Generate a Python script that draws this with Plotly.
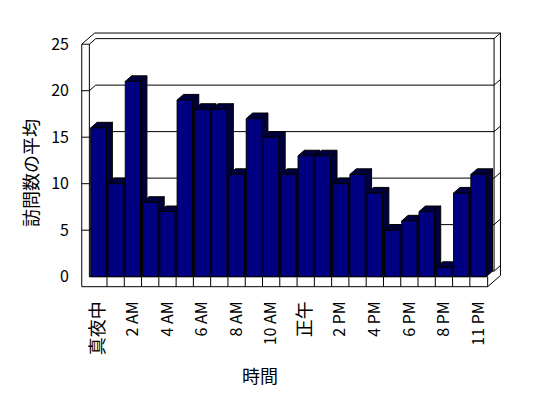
import plotly.graph_objects as go

# ---- data ----
hours = ["真夜中", "1 AM", "2 AM", "3 AM", "4 AM", "5 AM", "6 AM", "7 AM",
         "8 AM", "9 AM", "10 AM", "11 AM", "正午", "1 PM", "2 PM", "3 PM",
         "4 PM", "5 PM", "6 PM", "7 PM", "8 PM", "9 PM", "11 PM"]
visits = [16, 10, 21, 8, 7, 19, 18, 18, 11, 17, 15, 11, 13, 13, 10, 11,
          9, 5, 6, 7, 1, 9, 11]
y_ticks = [0, 5, 10, 15, 20, 25]
y_title = "訪問数の平均"
x_title = "時間"

# ---- style / geometry constants ----
FONT = "Noto Sans CJK JP"
FACE = "#000080"
SHADE = "#00003c"
BW = 0.885            # bar face width (category units)
HW = BW / 2
DX, DY = 0.37, 0.6    # 3D depth offset in axis units
XL0, XL1 = -0.96, -0.52
XF = len(hours) - 0.47
VB = -1.075
VT = max(y_ticks)

idx = list(range(len(hours)))
shapes = []


def seg(x0, y0, x1, y1):
    shapes.append(dict(type="line", xref="x", yref="y", x0=x0, y0=y0,
                       x1=x1, y1=y1, layer="below",
                       line=dict(color="black", width=1)))


def poly(pts, fill):
    path = "M " + " L ".join(f"{x},{y}" for x, y in pts) + " Z"
    shapes.append(dict(type="path", xref="x", yref="y", path=path,
                       layer="below", fillcolor=fill,
                       line=dict(color="black", width=1)))


# walls and gridlines
for v in y_ticks:
    if v > 0:
        seg(XL0, v, XL1, v)
    seg(XL1, v, XL1 + DX, v + DY)
    seg(XL1 + DX, v + DY, XF + DX, v + DY)
    seg(XF + DX, v + DY, XF + 2 * DX, v + 2 * DY)
seg(XL0, VT, XL0 + 2 * DX, VT + 2 * DY)
seg(XL0 + 2 * DX, VT + 2 * DY, XF + 2 * DX, VT + 2 * DY)
seg(XF + 2 * DX, VB + 2 * DY, XF + 2 * DX, VT + 2 * DY)
seg(XF + DX, DY, XF + DX, VT + DY)
seg(XL0, VB, XL0, VT)
seg(XL1, 0, XL1, VT)
# floor
seg(XL0, VB, XF, VB)
seg(XL1, 0, XF, 0)
seg(XF, VB, XF, 0)
seg(XF, VB, XF + 2 * DX, VB + 2 * DY)
for k in range(len(hours) - 1):
    seg(k + 0.5, VB, k + 0.5, 0)

# bar sides and tops (faces drawn by the Bar trace)
for i, v in zip(idx, visits):
    xr = i + HW
    xl = i - HW
    poly([(xr, 0), (xr + DX, DY), (xr + DX, v + DY), (xr, v)], SHADE)
    poly([(xl, v), (xl + DX, v + DY), (xr + DX, v + DY), (xr, v)], SHADE)

fig = go.Figure()
fig.add_trace(go.Bar(x=idx, y=visits, width=BW, base=0,
                     marker=dict(color=FACE, line=dict(color="black", width=1)),
                     hoverinfo="skip"))


def tick_label(s):
    # CJK glyphs in the original are drawn slightly larger than Latin ones
    if any(ord(c) > 0x2000 for c in s):
        return f'<span style="font-size:18px">{s}</span>'
    return s


# page body has an 8px margin; compensate so the picture lands in place
OFF = 8
W, H = 548, 398
L, R, T, B = 73, 508, 25, 290
PX_X, X0PX = 17.28, 98.35
PX_Y, Y0PX = 9.3, 276.7

fig.update_layout(
    width=W - OFF, height=H - OFF,
    margin=dict(l=L - OFF, r=W - R, t=T - OFF, b=H - B, pad=0,
                autoexpand=False),
    paper_bgcolor="white", plot_bgcolor="white",
    showlegend=False,
    shapes=shapes,
    font=dict(family=FONT, size=16, color="black"),
    xaxis=dict(range=[(L - X0PX) / PX_X, (R - X0PX) / PX_X],
               tickvals=idx[::2],
               ticktext=[tick_label(h) for h in hours[::2]],
               tickangle=-90,
               showgrid=False, zeroline=False, showline=False,
               ticks="", ticklabelstandoff=7, automargin=False,
               tickfont=dict(family=FONT, size=16, color="black")),
    yaxis=dict(range=[(Y0PX - B) / PX_Y, (Y0PX - T) / PX_Y],
               tickvals=y_ticks, ticktext=[str(t) for t in y_ticks],
               showgrid=False, zeroline=False, showline=False,
               ticks="", ticklabelstandoff=3, automargin=False,
               tickfont=dict(family=FONT, size=16, color="black")),
    annotations=[
        dict(text=y_title, xref="paper", yref="paper",
             x=(30 - L) / (R - L), y=(B - 173) / (B - T),
             xanchor="center", yanchor="middle",
             textangle=-90, showarrow=False,
             font=dict(family=FONT, size=18, color="black")),
        dict(text=x_title, xref="paper", yref="paper",
             x=(259.5 - L) / (R - L), y=(B - 375) / (B - T),
             xanchor="center", yanchor="middle",
             showarrow=False, font=dict(family=FONT, size=18, color="black")),
    ],
)

fig.write_html("out.html")
